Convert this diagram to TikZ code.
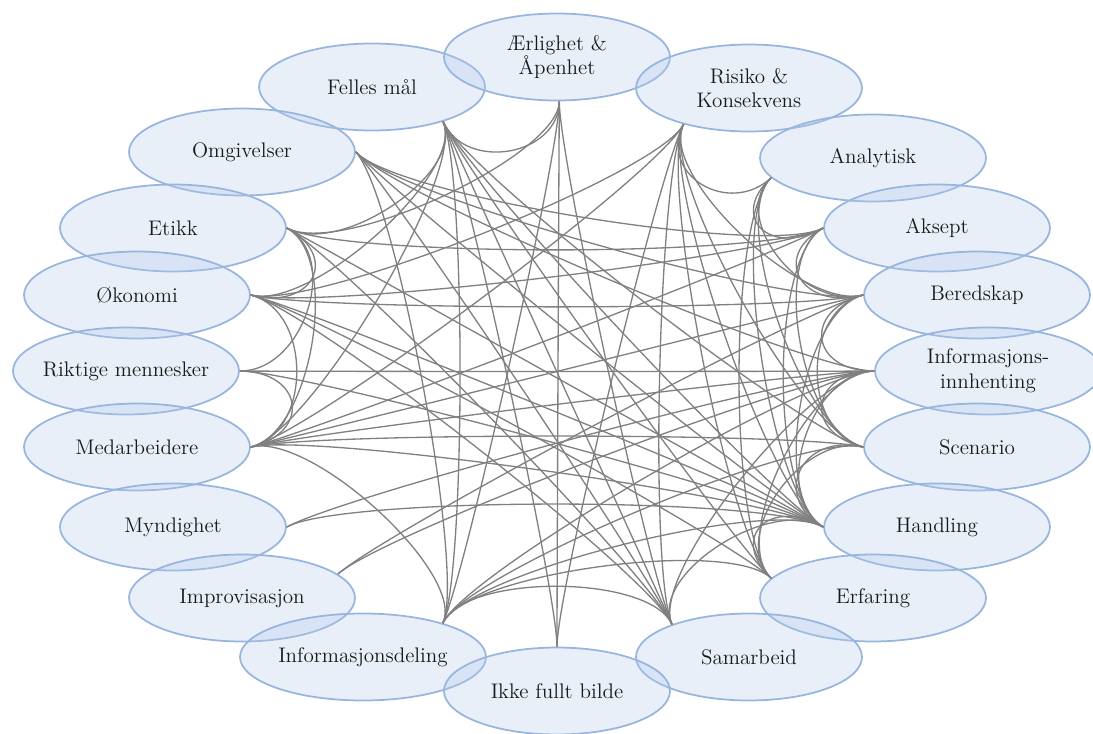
\documentclass[tikz,border=0pt]{standalone}
\usepackage{fontspec}
\usepackage{tikz}
\usetikzlibrary{shapes.geometric,calc}

\begin{document}
\begin{tikzpicture}[
        x=0.02cm, y=-0.02cm,
        font=\fontsize{12}{14}\selectfont,
        bub/.style={ellipse, draw={rgb,255:red,152;green,181;blue,222}, line width=1pt,
            fill={rgb,255:red,180;green,203;blue,235}, fill opacity=0.3, text opacity=1,
            text=black!90, align=center, inner sep=0pt, minimum width=4.52cm, minimum height=1.74cm},
        lnk/.style={draw={rgb,255:red,128;green,128;blue,128}, line width=0.75pt}
    ]
    \useasboundingbox (0,0) rectangle (1093,734);
    \node[bub] (fm) at (372,87) {Felles mål};
    \node[bub] (ae) at (557,57) {Ærlighet \&\\Åpenhet};
    \node[bub] (rk) at (749,88) {Risiko \&\\Konsekvens};
    \node[bub] (om) at (242,152) {Omgivelser};
    \node[bub] (an) at (873,158) {Analytisk};
    \node[bub] (et) at (173,228) {Etikk};
    \node[bub] (ak) at (937,228) {Aksept};
    \node[bub] (ok) at (137,295) {Økonomi};
    \node[bub] (be) at (977,295) {Beredskap};
    \node[bub, inner sep=-6pt] (rm) at (126,371) {Riktige mennesker};
    \node[bub] (ii) at (988,371) {Informasjons-\\innhenting};
    \node[bub] (ma) at (137,447) {Medarbeidere};
    \node[bub] (sc) at (977,447) {Scenario};
    \node[bub] (my) at (173,527) {Myndighet};
    \node[bub] (ha) at (937,527) {Handling};
    \node[bub] (im) at (242,598) {Improvisasjon};
    \node[bub] (er) at (873,598) {Erfaring};
    \node[bub, minimum width=4.92cm, inner sep=-4pt] (id) at (363,657) {Informasjonsdeling};
    \node[bub] (sa) at (749,657) {Samarbeid};
    \node[bub] (ik) at (557,691) {Ikke fullt bilde};

    \coordinate (ctr) at (557,374);
    \foreach \n/\ang in {fm/-26, ae/-87, rk/209, om/0, an/191, et/0, ak/180, ok/0, be/180, rm/0,
            ii/180, ma/0, sc/180, my/0, ha/180, im/14, er/169, id/23, sa/157, ik/90}
        \coordinate (p-\n) at (\n.\ang);

    \foreach \a/\b in {fm/ae, fm/et, fm/ok, fm/ma, fm/id, fm/ik, fm/sa, fm/ha, fm/sc, fm/er,
            ae/et, ae/id, ae/ik, ae/sa,
            rk/an, rk/ok, rk/ma, rk/be, rk/sc, rk/ha, rk/sa, rk/er, rk/ik,
            om/ak, om/be, om/ha, om/sa, om/id, om/ii,
            et/ok, et/rm, et/ma, et/ak, et/ha, et/sa,
            ok/ma, ok/be, ok/ak, ok/ha, ok/sa, ok/er,
            rm/ma, rm/ii, rm/ha,
            ma/ak, ma/ii, ma/be, ma/id, ma/sc, ma/ha,
            my/ha, my/ii, im/ii, im/be,
            id/ha, id/sc, id/ii, id/sa, id/er,
            sa/ha, sa/ii,
            er/an, er/ha, er/sc, er/ii,
            ha/sc, ha/ii, ha/be, ha/ak, ha/an,
            sc/ii, sc/be, sc/ak, sc/an,
            ii/be, be/ak, be/an, ak/an}
        \draw[lnk] (p-\a) .. controls ($(p-\a)!0.2!(ctr)$) and ($(p-\b)!0.2!(ctr)$) .. (p-\b);
\end{tikzpicture}
\end{document}
